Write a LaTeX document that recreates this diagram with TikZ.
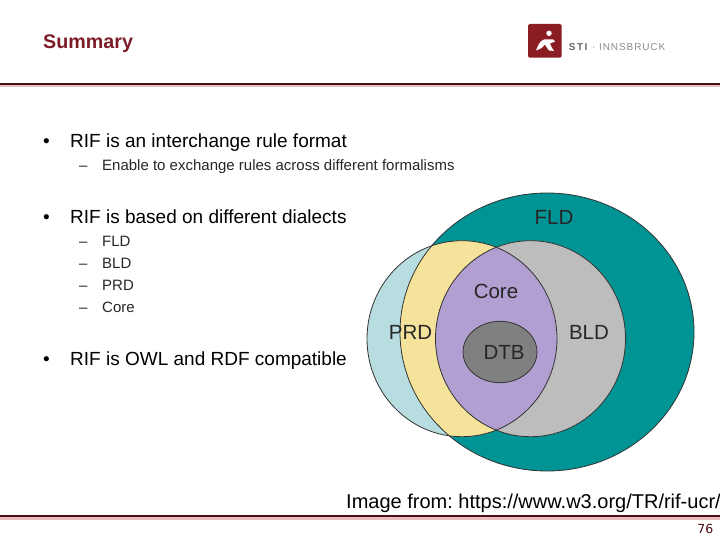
\documentclass[tikz,border=0pt]{standalone}
\usepackage{fontspec}
\setmainfont{Liberation Sans}
\newfontfamily\pagefont{DejaVu Sans}
\newfontfamily\stifont[LetterSpace=15]{Liberation Sans}
\newfontfamily\innsfont[LetterSpace=9]{Liberation Sans}
\usetikzlibrary{positioning}
\definecolor{stired}{HTML}{7B1C28}
\definecolor{ruledark}{HTML}{4A0F14}
\definecolor{rulepink}{HTML}{E8BFC0}
\definecolor{logored}{HTML}{8C1C24}
\definecolor{fldteal}{HTML}{009494}
\definecolor{prdblue}{HTML}{B8DDE0}
\definecolor{prdyellow}{HTML}{F5E29B}
\definecolor{bldgray}{HTML}{BDBDBD}
\definecolor{corepurple}{HTML}{B09FD0}
\definecolor{dtbgray}{HTML}{808080}

\begin{document}
\begin{tikzpicture}[
  x=1pt, y=-1pt,
  ptitle/.style={anchor=base west, inner sep=0pt, text=stired, font=\fontsize{19.7}{22}\selectfont\bfseries},
  mainitem/.style={anchor=base west, inner sep=0pt, font=\fontsize{19}{22}\selectfont},
  subitem/.style={anchor=base west, inner sep=0pt, text=black!85, font=\fontsize{15}{17}\selectfont},
  venn/.style={font=\fontsize{20.5}{22}\selectfont, inner sep=0pt, text=black!85},
  vline/.style={draw=black!80, line width=0.8pt},
]
\useasboundingbox (0,0) rectangle (720,540);
\def\fldpath{(547,332) ellipse [x radius=147, y radius=139]}
\def\prdpath{(462,338.7) ellipse [x radius=95, y radius=98]}
\def\bldpath{(530.5,338.7) ellipse [x radius=95, y radius=98]}

% ============================== header and footer ==============================
\node[ptitle] (title) at (43,48.5) {Summary};
\fill[rulepink] (0,85) rectangle (720,87.5);
\fill[ruledark] (0,83) rectangle (720,85);
\fill[rulepink] (0,517) rectangle (720,519.5);
\fill[ruledark] (0,515) rectangle (720,517);
\node[anchor=base east, inner sep=0pt, text=ruledark, font=\fontsize{12.5}{14}\pagefont] (page) at (713.5,533) {76};

% logo
\fill[logored, rounded corners=1.5pt] (528,24) rectangle (561.7,57.7);
\fill[white] (549,33.3) circle [radius=2.7];
\fill[white] (536,50.5) .. controls (538,45.5) and (540,40.5) .. (544,39.5)
  -- (553,39.5) -- (555,41.5) -- (550,43.5) .. controls (551,46) and (552,48.5) .. (554,51)
  -- (549,50.5) .. controls (547,48) and (546,46.5) .. (545,44.5) .. controls (543,47) and (541,49) .. (536,50.5) -- cycle;
\node[anchor=base west, inner sep=0pt, text=black!60, font=\fontsize{10}{11}\stifont\bfseries] (sti) at (568.7,51) {STI};
\node[anchor=base west, inner sep=0pt, text=black!45, font=\fontsize{10}{11}\selectfont] (stidot) at (592,51) {·};
\node[anchor=base west, inner sep=0pt, text=black!45, font=\fontsize{10}{11}\innsfont] (innsbruck) at (599,51) {INNSBRUCK};

% ============================== bullets ==============================
\node[mainitem] (b1) at (43,148) {•};
\node[mainitem] (t1) at (70,148) {RIF is an interchange rule format};
\node[subitem] (d1) at (79,171) {–};
\node[subitem] (s1) at (102,171) {Enable to exchange rules across different formalisms};
\node[mainitem] (b2) at (43,223) {•};
\node[mainitem] (t2) at (70,223) {RIF is based on different dialects};
\foreach \y/\lab in {246/FLD,268/BLD,290/PRD,312/Core}{
  \node[subitem] (dash\lab) at (79,\y) {–};
  \node[subitem] (item\lab) at (102,\y) {\lab};
}
\node[mainitem] (b3) at (43,365) {•};
\node[mainitem] (t3) at (70,365) {RIF is OWL and RDF compatible};

% ============================== venn diagram ==============================
\fill[fldteal] \fldpath;
\fill[prdblue] \prdpath;
\fill[bldgray] \bldpath;
\begin{scope}
  \clip \fldpath;
  \fill[prdyellow] \prdpath;
  \fill[bldgray] \bldpath;
\end{scope}
\begin{scope}
  \clip \prdpath;
  \fill[corepurple] \bldpath;
\end{scope}
\draw[vline] \fldpath;
\draw[vline] \prdpath;
\draw[vline] \bldpath;
\draw[vline, fill=dtbgray] (500,352) ellipse [x radius=37, y radius=30.7];

\node[venn] (fld) at (554,217) {FLD};
\node[venn] (core) at (496,291) {Core};
\node[venn] (prd) at (410.5,332.5) {PRD};
\node[venn] (dtb) at (504,352) {DTB};
\node[venn] (bld) at (589,332.5) {BLD};

\node[anchor=base west, inner sep=0pt, font=\frenchspacing\fontsize{20}{22}\selectfont] (credit) at (346,508.5) {Image from: https://www.w3.org/TR/rif-ucr/};
\end{tikzpicture}
\end{document}
